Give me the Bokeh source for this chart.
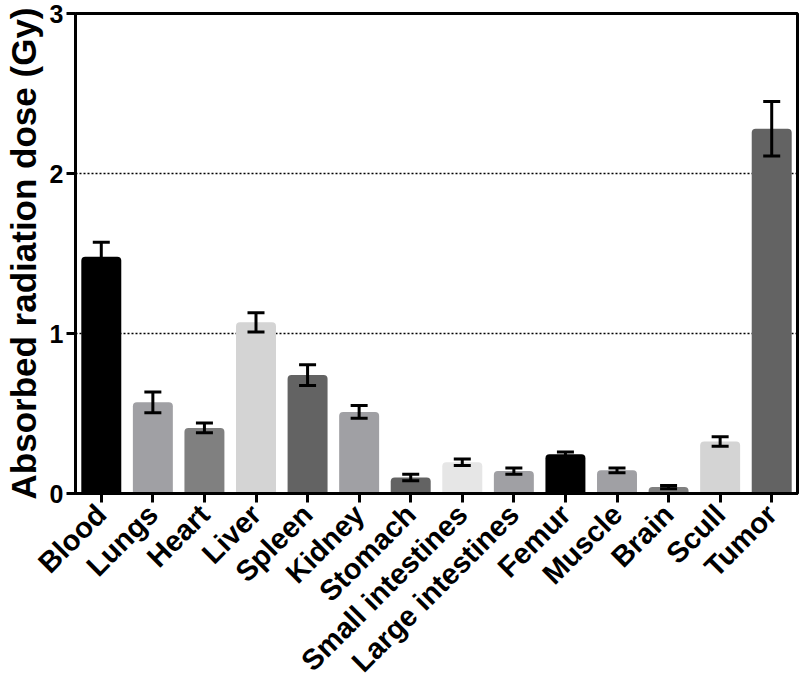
import math
from bokeh.plotting import figure
from bokeh.models import ColumnDataSource, FactorRange, Range1d, Whisker, TeeHead, FixedTicker
from bokeh.embed import file_html
from bokeh.resources import INLINE

organs = ["Blood", "Lungs", "Heart", "Liver", "Spleen", "Kidney", "Stomach",
          "Small intestines", "Large intestines", "Femur", "Muscle", "Brain",
          "Scull", "Tumor"]
dose = [1.48, 0.57, 0.41, 1.07, 0.74, 0.51, 0.10, 0.195, 0.14, 0.245, 0.145, 0.04, 0.325, 2.28]
err = [0.09, 0.065, 0.03, 0.06, 0.065, 0.04, 0.02, 0.02, 0.02, 0.015, 0.015, 0.01, 0.03, 0.17]
colors = ["#000000", "#a0a0a4", "#808080", "#d4d4d4", "#636363", "#a0a0a4", "#636363",
          "#e6e6e6", "#a0a0a4", "#000000", "#a0a0a4", "#808080", "#d4d4d4", "#636363"]
y_ticks = [0, 1, 2, 3]

src = ColumnDataSource(dict(
    organ=organs, dose=dose, color=colors,
    upper=[d + e for d, e in zip(dose, err)],
    lower=[d - e for d, e in zip(dose, err)],
))

FONT = "Liberation Sans"

p = figure(x_range=FactorRange(factors=organs, range_padding=0),
           y_range=Range1d(0, 3),
           width=800, height=692, output_backend="svg", toolbar_location=None,
           min_border_left=74, min_border_right=3, min_border_top=13, min_border_bottom=199)

p.vbar(x="organ", top="dose", width=0.775, source=src, fill_color="color",
       line_color=None, border_radius=[4, 4, 0, 0])

w = Whisker(base="organ", upper="upper", lower="lower", source=src,
            line_color="black", line_width=3, level="annotation",
            upper_head=TeeHead(size=17, line_width=3, line_color="black"),
            lower_head=TeeHead(size=17, line_width=3, line_color="black"))
p.add_layout(w)

p.outline_line_color = "black"
p.outline_line_width = 3
p.background_fill_color = "white"
p.border_fill_color = "white"

p.xgrid.visible = False
p.ygrid.ticker = FixedTicker(ticks=[1, 2])
p.ygrid.grid_line_color = "black"
p.ygrid.grid_line_width = 1.5
p.ygrid.grid_line_dash = "2 2"

p.yaxis.ticker = FixedTicker(ticks=y_ticks)
p.yaxis.axis_label = "Absorbed radiation dose (Gy)"

for ax in (p.xaxis[0], p.yaxis[0]):
    ax.axis_line_width = 3
    ax.axis_line_color = "black"
    ax.major_tick_line_width = 3
    ax.major_tick_line_color = "black"
    ax.major_tick_out = 9
    ax.major_tick_in = 0
    ax.minor_tick_line_color = None
    ax.major_label_text_font = FONT
    ax.major_label_text_font_style = "bold"
    ax.major_label_text_color = "black"

p.yaxis.major_label_text_font_size = "25px"
p.yaxis.major_label_standoff = 3
p.yaxis.axis_label_text_font = FONT
p.yaxis.axis_label_text_font_style = "bold"
p.yaxis.axis_label_text_font_size = "35px"
p.yaxis.axis_label_text_color = "black"
p.yaxis.axis_label_standoff = 4

p.xaxis.major_label_text_font_size = "29px"
p.xaxis.major_label_orientation = math.pi / 4
p.xaxis.major_label_standoff = 7

open("out.html", "w").write(file_html(p, INLINE))
